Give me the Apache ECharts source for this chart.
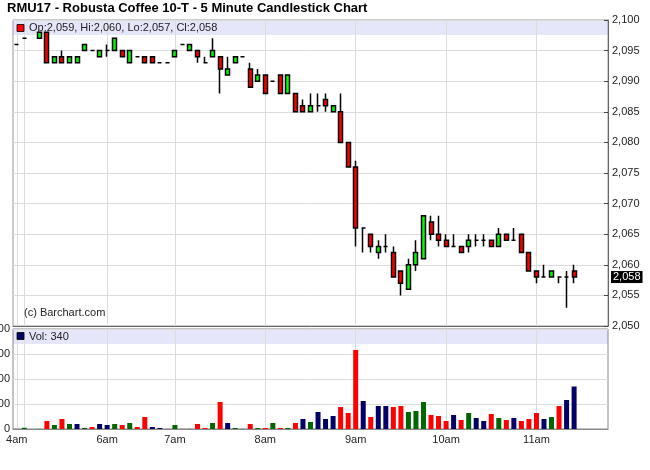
<!DOCTYPE html>
<html>
<head>
<meta charset="utf-8">
<script src="https://cdn.jsdelivr.net/npm/echarts@6/dist/echarts.min.js"></script>
<style>html,body{margin:0;padding:0;background:#fff}#c{width:650px;height:470px}</style>
</head>
<body>
<div id="c"></div>
<script>
// ---- data (5-minute bars, slot order) ----
const times = [
  '04:00',
  '05:00','05:05','05:10','05:15','05:20','05:25','05:30','05:35','05:40','05:45','05:50',
  '06:00','06:05','06:10','06:15','06:20','06:25','06:30','06:35','06:40',
  '07:00','07:05','07:10','07:15','07:20','07:25','07:30','07:35','07:40','07:45','07:50','07:55',
  '08:00','08:05','08:10','08:15','08:20','08:25','08:30','08:35','08:40','08:45','08:50','08:55',
  '09:00','09:05','09:10','09:15','09:20','09:25','09:30','09:35','09:40','09:45','09:50','09:55',
  '10:00','10:05','10:10','10:15','10:20','10:25','10:30','10:35','10:40','10:45','10:50','10:55',
  '11:00','11:05','11:10','11:15','11:20','11:25'
];
const opens = [
  2096,2097,null,2097,2098,2093,2094,2093,2093,2095,2095,2094,
  2095,2095,2095,2093,2094,2094,2094,2093,2093,
  2094,2096,2095,2095,2093,2094,2094,2091,2093,2094,2092,2090,
  2091,2090,2091,2088,2088,2086,2085,2086,2087,2085,2085,2080,
  2076,2066,2065,2062,2063,2062,2059,2056,2060,2061,2067,2065,
  2064,2063,2063,2063,2064,2064,2064,2063,2065,2064,2065,2062,
  2059,2058,2058,2058,2058,2059
];
const highs = [
  2096,2097,null,2098,2098,2094,2095,2094,2094,2096,2095,2095,
  2096,2097,2095,2095,2094,2094,2094,2093,2093,
  2095,2096,2096,2095,2094,2097,2094,2094,2094,2094,2093,2092,
  2091,2090,2091,2091,2088,2087,2088,2088,2088,2086,2088,2080,
  2077,2066,2065,2064,2065,2063,2059,2061,2064,2068,2068,2068,
  2065,2065,2063,2065,2065,2065,2064,2066,2065,2066,2065,2062,
  2059,2060,2059,2058,2059,2060
];
const lows = [
  2096,2097,null,2097,2093,2093,2093,2093,2093,2095,2095,2094,
  2094,2095,2094,2093,2094,2093,2093,2093,2093,
  2094,2096,2095,2093,2093,2094,2088,2091,2093,2094,2089,2090,
  2088,2090,2088,2088,2085,2085,2085,2085,2085,2085,2080,2076,
  2063,2062,2062,2061,2062,2058,2055,2056,2059,2061,2064,2063,
  2063,2063,2062,2062,2063,2063,2063,2063,2064,2064,2062,2059,
  2057,2058,2058,2057,2053,2057
];
const closes = [
  2096,2097,null,2098,2093,2094,2093,2094,2094,2096,2095,2095,
  2095,2097,2094,2095,2094,2093,2093,2093,2093,
  2095,2096,2096,2094,2093,2095,2092,2092,2094,2094,2089,2091,
  2088,2090,2088,2091,2085,2085,2086,2086,2086,2086,2080,2076,
  2066,2066,2063,2063,2063,2058,2057,2060,2062,2068,2065,2064,
  2063,2063,2062,2064,2064,2064,2063,2065,2064,2064,2062,2059,
  2058,2058,2059,2058,2058,2058
];
const volumes = [
  1,10,null,1,64,32,80,40,40,8,16,40,
  32,40,32,48,16,96,16,8,1,
  32,1,1,40,8,48,216,48,8,1,40,8,
  8,48,8,8,48,80,56,136,80,104,176,128,
  632,224,96,184,184,176,184,136,144,216,112,104,
  64,112,72,128,88,64,120,88,72,88,64,80,
  128,80,96,184,232,340
];
const priceAxis = { min: 2050, max: 2100, step: 5 };
const volumeAxis = { min: 0, max: 800, step: 200 };
const emptySlotsRight = 4;

// ---- helpers ----
const FONT = "'Liberation Sans', Arial, sans-serif";
const fmt = v => v.toLocaleString('en-US');
const cats = times.concat(Array(emptySlotsRight).fill(''));
const hourStart = cats.map((t, i) => i < times.length && (i === 0 || t.slice(0, 2) !== times[i - 1].slice(0, 2)));
const labelShow = []; let lastShown = -99;
hourStart.forEach((h, i) => { if (h && i - lastShown >= 4) { labelShow[i] = true; lastShown = i; } else labelShow[i] = false; });
const hourLabel = t => { const h = parseInt(t, 10); return (h % 12 === 0 ? 12 : h % 12) + (h < 12 ? 'am' : 'pm'); };

const candleData = times.map((t, i) => opens[i] == null ? '-' : [opens[i], closes[i], lows[i], highs[i]]);
let prevClose = null;
const volData = times.map((t, i) => {
  if (volumes[i] == null) return '-';
  let col = '#000066';
  if (prevClose != null && closes[i] > prevClose) col = '#006600';
  else if (prevClose != null && closes[i] < prevClose) col = '#ff0000';
  prevClose = closes[i];
  return { value: volumes[i], itemStyle: { color: col } };
});
const last = times.length - 1;
const legendText = 'Op:' + fmt(opens[last]) + ', Hi:' + fmt(highs[last]) + ', Lo:' + fmt(lows[last]) + ', Cl:' + fmt(closes[last]);

const chart = echarts.init(document.getElementById('c'), null, { renderer: 'canvas' });
const xBase = {
  type: 'category', data: cats, boundaryGap: true,
  axisTick: { show: false },
  splitLine: { show: true, interval: (i) => hourStart[i], alignWithLabel: true, lineStyle: { color: '#dcdcdc', width: 1 } }
};
chart.setOption({
  animation: false,
  backgroundColor: '#fff',
  title: { text: 'RMU17 - Robusta Coffee 10-T - 5 Minute Candlestick Chart', left: 7, top: 2, padding: 0,
    textStyle: { fontSize: 13, fontWeight: 'bold', color: '#000', fontFamily: FONT } },
  grid: [
    { left: 13, right: 42, top: 20, height: 306, show: true, borderColor: '#999', borderWidth: 1, backgroundColor: 'transparent',
      containLabel: false, outerBoundsMode: 'none' },
    { left: 13, right: 42, top: 329, height: 100, show: true, borderColor: '#888', borderWidth: 1, backgroundColor: 'transparent',
      containLabel: false, outerBoundsMode: 'none' }
  ],
  xAxis: [
    Object.assign({}, xBase, { gridIndex: 0, axisLabel: { show: false }, axisLine: { show: true, lineStyle: { color: '#666' } } }),
    Object.assign({}, xBase, { gridIndex: 1, axisLine: { show: true, lineStyle: { color: '#888' } },
      axisLabel: { interval: (i) => labelShow[i], formatter: (v) => hourLabel(v), fontSize: 11, color: '#222', margin: 5, fontFamily: FONT } })
  ],
  yAxis: [
    { gridIndex: 0, type: 'value', position: 'right', min: priceAxis.min, max: priceAxis.max, interval: priceAxis.step,
      axisLine: { show: true, lineStyle: { color: '#666' } },
      axisTick: { show: true, inside: true, length: 4, lineStyle: { color: '#444' } },
      axisLabel: { formatter: (v) => fmt(v), fontSize: 11, color: '#222', margin: 4, fontFamily: FONT },
      splitLine: { lineStyle: { color: '#dcdcdc' } } },
    { gridIndex: 1, type: 'value', position: 'left', min: volumeAxis.min, max: volumeAxis.max, interval: volumeAxis.step,
      axisLine: { show: false }, axisTick: { show: false },
      axisLabel: { fontSize: 11, color: '#222', margin: 3, fontFamily: FONT },
      splitLine: { lineStyle: { color: '#dcdcdc' } } }
  ],
  series: [
    { type: 'candlestick', xAxisIndex: 0, yAxisIndex: 0, data: candleData, barWidth: 4.5,
      itemStyle: { color: '#00ff00', color0: '#ff0000', borderColor: '#000', borderColor0: '#000', borderWidth: 1.5 },
      markLine: { silent: true, symbol: ['none', 'none'], animation: false,
        lineStyle: { color: 'transparent', width: 0 },
        label: { position: 'end', distance: 3, formatter: fmt(closes[last]), color: '#fff', backgroundColor: '#000',
          fontSize: 11, fontFamily: FONT, padding: [1, 2, 0, 2] },
        data: [{ yAxis: closes[last] }] } },
    { type: 'bar', xAxisIndex: 1, yAxisIndex: 1, data: volData, barWidth: 5 }
  ],
  graphic: [
    { type: 'rect', z: -1, silent: true, shape: { x: 13, y: 20.5, width: 595, height: 14.5 }, style: { fill: '#e6e6fa' } },
    { type: 'rect', z: 10, shape: { x: 17, y: 24.5, width: 7, height: 7 }, style: { fill: '#ff0000', stroke: '#000', lineWidth: 0.8 } },
    { type: 'text', z: 10, x: 29, y: 28, style: { text: legendText, fontSize: 11, fontFamily: FONT, fill: '#222', verticalAlign: 'middle' } },
    { type: 'text', z: 10, x: 24, y: 313, style: { text: '(c) Barchart.com', fontSize: 11, fontFamily: FONT, fill: '#222', verticalAlign: 'middle' } },
    { type: 'rect', z: -1, silent: true, shape: { x: 13, y: 329.5, width: 595, height: 14.5 }, style: { fill: '#e6e6fa' } },
    { type: 'rect', z: 10, shape: { x: 17, y: 332.5, width: 7, height: 7 }, style: { fill: '#000066', stroke: '#000', lineWidth: 0.8 } },
    { type: 'text', z: 10, x: 29, y: 336.5, style: { text: 'Vol: ' + fmt(volumes[last]), fontSize: 11, fontFamily: FONT, fill: '#222', verticalAlign: 'middle' } }
  ]
});
</script>
</body>
</html>
